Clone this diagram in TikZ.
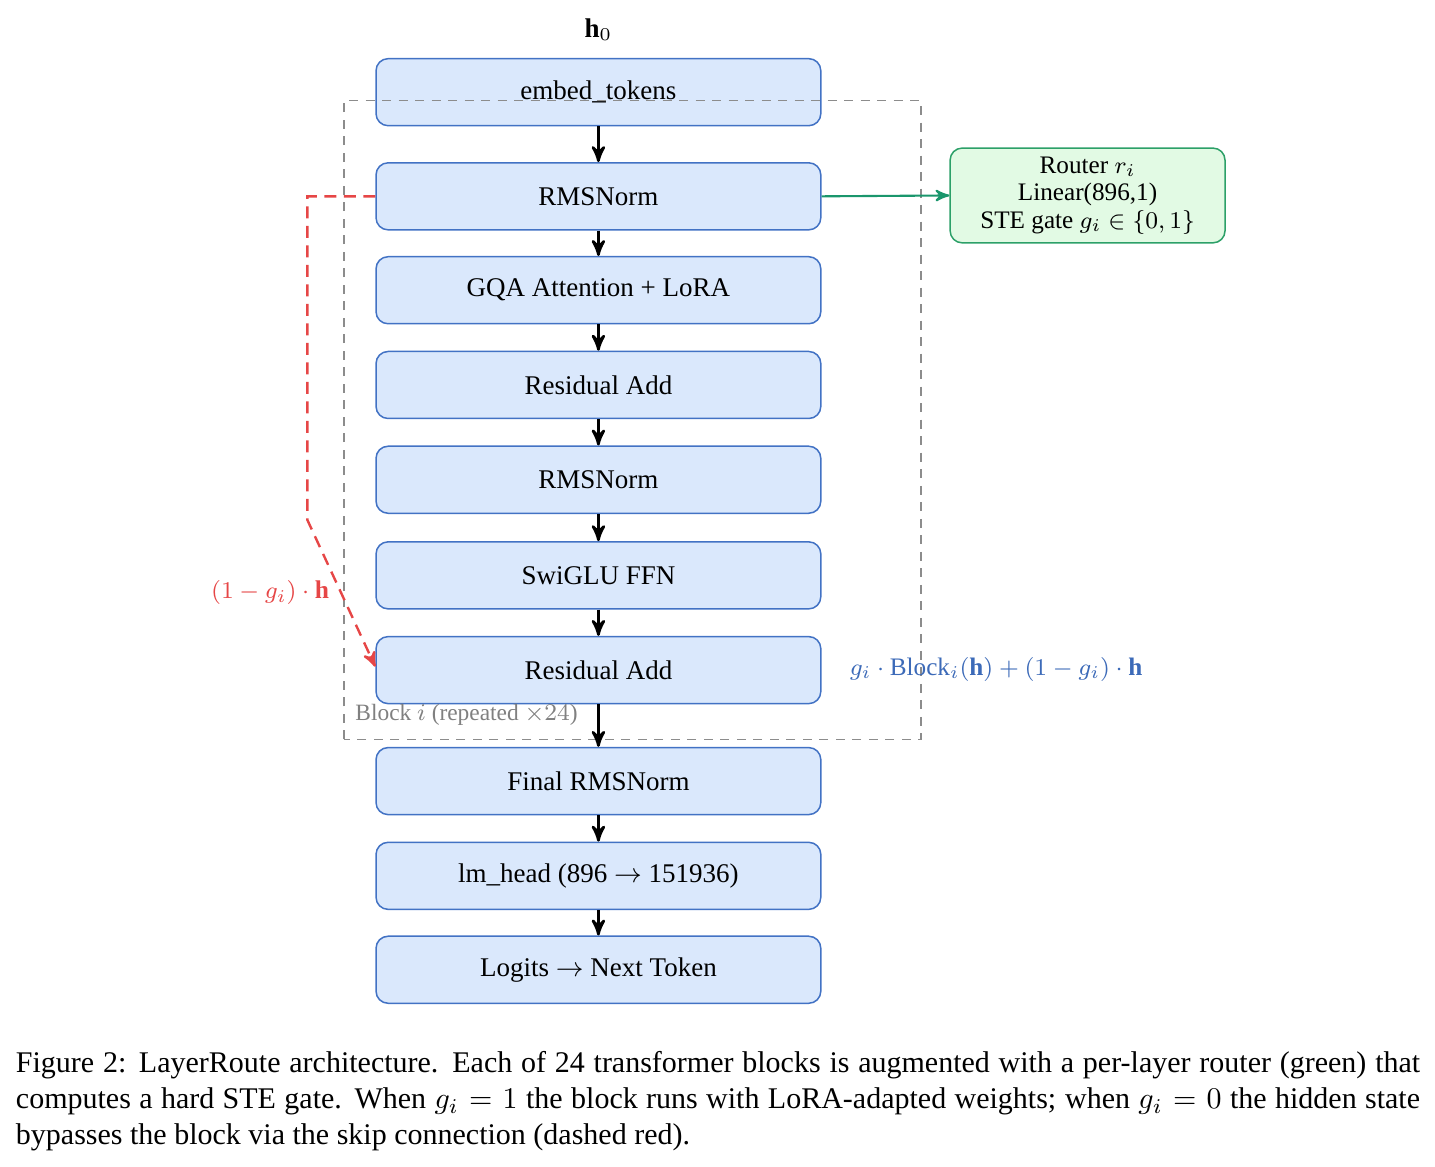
\documentclass[tikz,border=0pt]{standalone}
\usepackage{fontspec}
\setmainfont{Liberation Serif}
\usepackage{amsmath}
\usepackage{tikz}
\usetikzlibrary{shapes,arrows,calc}
\definecolor{layerfill}{RGB}{218,232,252}
\definecolor{layerdraw}{RGB}{66,114,196}
\definecolor{routerfill}{RGB}{226,250,228}
\definecolor{routerdraw}{RGB}{44,160,104}
\definecolor{routerarrow}{RGB}{26,150,108}
\definecolor{skipred}{RGB}{230,70,70}
\definecolor{mixblue}{RGB}{60,106,184}
\tikzstyle{layer} = [draw=layerdraw, fill=layerfill, line width=0.5pt, rounded corners=4pt, minimum width=5.21cm, minimum height=0.785cm, font=\fontsize{9}{11}\selectfont]
\tikzstyle{router} = [draw=routerdraw, fill=routerfill, line width=0.5pt, rounded corners=4pt, minimum width=3.22cm, minimum height=1.11cm, align=center, inner sep=1pt, font=\fontsize{8.4}{9.2}\selectfont]
\tikzstyle{arrow} = [draw, -stealth', line width=0.9pt]
\tikzstyle{skip} = [draw=skipred, -stealth', line width=0.8pt, dash pattern=on 4pt off 2.5pt]
\tikzstyle{blockframe} = [draw=black!45, line width=0.5pt, dash pattern=on 3pt off 2.5pt]

\begin{document}
\begin{tikzpicture}
      \useasboundingbox (0,0) rectangle (16.81,13.66);

      \node (h0) at (7.01, 13.31) {\fontsize{9}{11}\selectfont $\mathbf{h}_0$};
      \node[layer] (embed) at (7.01, 12.58) {embed\_tokens};
      \node[layer] (norma) at (7.01, 11.36) {RMSNorm};
      \node[layer] (attn) at (7.01, 10.26) {GQA Attention + LoRA};
      \node[layer] (resa) at (7.01, 9.15) {Residual Add};
      \node[layer] (normb) at (7.01, 8.04) {RMSNorm};
      \node[layer] (ffn) at (7.01, 6.92) {SwiGLU FFN};
      \node[layer] (resb) at (7.01, 5.81) {Residual Add};
      \node[layer] (finalnorm) at (7.01, 4.51) {Final RMSNorm};
      \node[layer] (lmhead) at (7.01, 3.40) {lm\_head (896 $\rightarrow$ 151936)};
      \node[layer] (logits) at (7.01, 2.30) {Logits $\rightarrow$ Next Token};

      \node[router] (router) at (12.74, 11.37) {Router $r_i$\\Linear(896,1)\\STE gate $g_i\in\{0,1\}$};

      \draw[blockframe] (4.03, 5.00) rectangle (10.79, 12.48);
      \node[anchor=west, text=black!50, font=\fontsize{7.8}{10}\selectfont] (blocklabel) at (4.04, 5.29) {Block $i$ (repeated $\times 24$)};

      \path[arrow] (embed) -- (norma);
      \path[arrow] (norma) -- (attn);
      \path[arrow] (attn) -- (resa);
      \path[arrow] (resa) -- (normb);
      \path[arrow] (normb) -- (ffn);
      \path[arrow] (ffn) -- (resb);
      \path[arrow] (resb) -- (finalnorm);
      \path[arrow] (finalnorm) -- (lmhead);
      \path[arrow] (lmhead) -- (logits);

      \path[arrow, draw=routerarrow, line width=0.7pt] (norma.east) -- (router.west);

      \coordinate (skiptop) at (3.60, 11.36);
      \coordinate (skipbend) at (3.60, 7.57);
      \path[skip] (norma.west) -- (skiptop |- norma.west) -- (skipbend) -- ($(resb.west)+(0,0.04)$);

      \node[anchor=east, text=skipred, font=\fontsize{8.5}{10}\selectfont] (skiplabel) at (3.98, 6.72) {$(1-g_i)\cdot\mathbf{h}$};
      \node[anchor=west, text=mixblue, font=\fontsize{8.4}{10}\selectfont] (mixlabel) at (9.83, 5.82) {$g_i\cdot\mathrm{Block}_i(\mathbf{h})+(1-g_i)\cdot\mathbf{h}$};

      \node[anchor=north west, align=left, inner sep=0pt, font=\fontsize{10}{12}\selectfont] (caption) at (0.18, 1.35)
        {\makebox[468pt][s]{Figure 2: LayerRoute architecture. Each of 24 transformer blocks is augmented with a per-layer router (green) that}\\
         \makebox[468pt][s]{computes a hard STE gate. When $g_i=1$ the block runs with LoRA-adapted weights; when $g_i=0$ the hidden state}\\
         bypasses the block via the skip connection (dashed red).};
    \end{tikzpicture}
\end{document}
